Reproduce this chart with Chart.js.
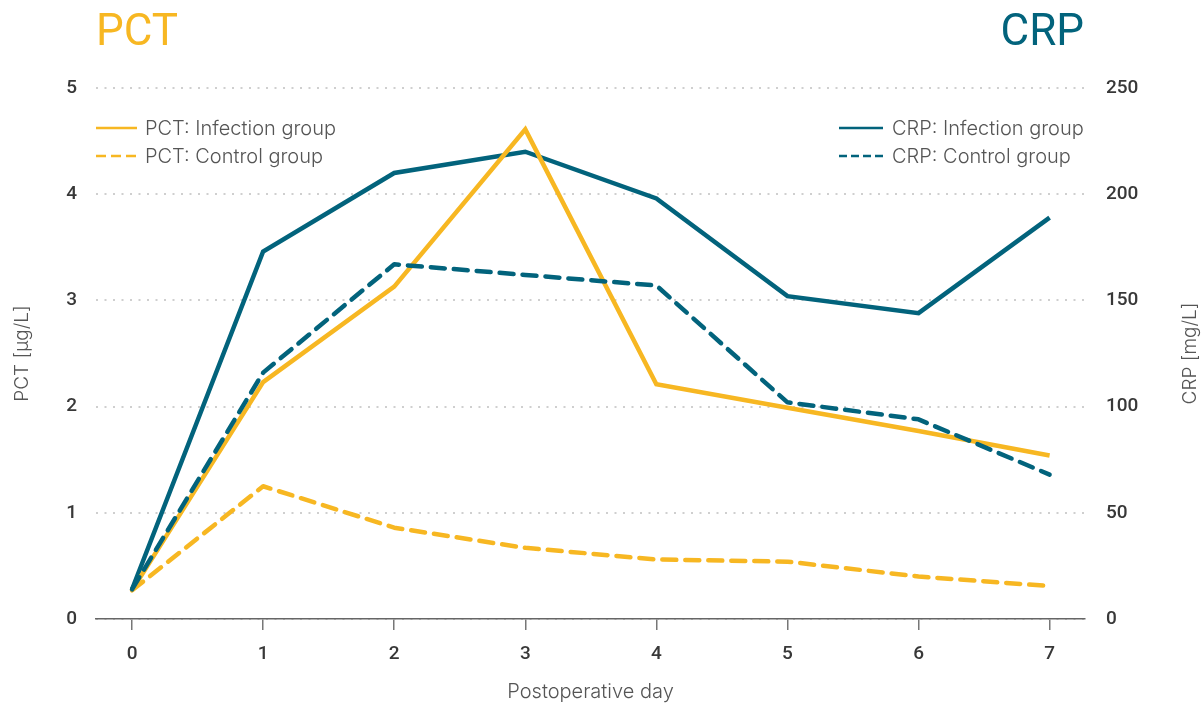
<!DOCTYPE html>
<html>
<head>
<meta charset="utf-8">
<script src="https://cdn.jsdelivr.net/npm/chart.js@4/dist/chart.umd.min.js"></script>
<style>
  html, body { margin: 0; padding: 0; background: #ffffff; }
  #wrap { width: 1202px; height: 704px; position: relative; }
</style>
</head>
<body>
<div id="wrap"><canvas id="c" width="1202" height="704"></canvas></div>
<script>
const days = [0, 1, 2, 3, 4, 5, 6, 7];
const pctInfection = [0.27, 2.23, 3.13, 4.61, 2.21, 1.99, 1.77, 1.54];
const pctControl   = [0.27, 1.25, 0.86, 0.67, 0.56, 0.54, 0.40, 0.31];
const crpInfection = [14, 173, 210, 220, 198, 152, 144, 189];
const crpControl   = [14, 116, 167, 162, 157, 102, 94, 68];
const pctTicks = [0, 1, 2, 3, 4, 5];
const crpTicks = [0, 50, 100, 150, 200, 250];

const ORANGE = '#F7B722';
const TEAL = '#02637C';
const TICKFONT = 'Roboto, "Liberation Sans", Arial, sans-serif';
const LIGHTFONT = 'Inter, "Noto Sans", sans-serif';
const TITLEFONT = 'Roboto, "Liberation Sans", sans-serif';

const pts = arr => days.map((d, i) => ({ x: d, y: arr[i] }));

const titlesLegendPlugin = {
  id: 'titlesLegend',
  afterDraw(chart) {
    const ctx = chart.ctx;
    const ca = chart.chartArea;
    ctx.save();
    ctx.textBaseline = 'alphabetic';
    ctx.font = '400 44px ' + TITLEFONT;
    ctx.fillStyle = ORANGE;
    ctx.textAlign = 'left';
    ctx.fillText('PCT', 96, 45);
    ctx.fillStyle = TEAL;
    ctx.textAlign = 'right';
    ctx.fillText('CRP', 1084, 45);

    // axis titles (both read bottom-to-top)
    const midY = (ca.top + ca.bottom) / 2;
    ctx.font = '300 19px ' + LIGHTFONT;
    ctx.fillStyle = '#555555';
    ctx.textAlign = 'center';
    ctx.textBaseline = 'middle';
    ctx.save();
    ctx.translate(22, midY);
    ctx.rotate(-Math.PI / 2);
    ctx.fillText('PCT [µg/L]', 0, 0);
    ctx.restore();
    ctx.save();
    ctx.translate(1190, midY);
    ctx.rotate(-Math.PI / 2);
    ctx.fillText('CRP [mg/L]', 0, 0);
    ctx.restore();

    const ds = chart.data.datasets;
    const byLabel = l => ds.find(d => d.label === l);
    const drawLine = (d, x0, x1, y) => {
      ctx.save();
      ctx.strokeStyle = d.borderColor;
      ctx.lineWidth = 2.5;
      ctx.setLineDash(d.legendDash || []);
      ctx.beginPath();
      ctx.moveTo(x0, y);
      ctx.lineTo(x1, y);
      ctx.stroke();
      ctx.restore();
    };
    ctx.font = '300 20px ' + LIGHTFONT;
    ctx.fillStyle = '#555555';
    ctx.textBaseline = 'middle';
    ctx.textAlign = 'left';
    const rows = [128, 156];
    ['PCT: Infection group', 'PCT: Control group'].forEach((l, i) => {
      const d = byLabel(l);
      drawLine(d, 96, 137, rows[i]);
      ctx.fillText(d.label, 145, rows[i] + 1);
    });
    ['CRP: Infection group', 'CRP: Control group'].forEach((l, i) => {
      const d = byLabel(l);
      ctx.fillText(d.label, 892, rows[i] + 1);
      drawLine(d, 839, 883, rows[i]);
    });
    ctx.restore();
  }
};

new Chart(document.getElementById('c'), {
  type: 'line',
  data: {
    datasets: [
      { label: 'CRP: Infection group', data: pts(crpInfection), yAxisID: 'y2',
        borderColor: TEAL, borderWidth: 4.5, pointRadius: 0, fill: false, order: 4 },
      { label: 'PCT: Control group', data: pts(pctControl), yAxisID: 'y',
        borderColor: ORANGE, borderWidth: 4.5, borderDash: [14, 9], legendDash: [10, 5],
        borderCapStyle: 'round', borderJoinStyle: 'round', pointRadius: 0, fill: false, order: 3 },
      { label: 'PCT: Infection group', data: pts(pctInfection), yAxisID: 'y',
        borderColor: ORANGE, borderWidth: 4.5, pointRadius: 0, fill: false, order: 2 },
      { label: 'CRP: Control group', data: pts(crpControl), yAxisID: 'y2',
        borderColor: TEAL, borderWidth: 4.5, borderDash: [14, 9], legendDash: [8, 4],
        borderCapStyle: 'round', borderJoinStyle: 'round', pointRadius: 0, fill: false, order: 1 }
    ]
  },
  options: {
    responsive: false,
    animation: false,
    events: [],
    layout: { padding: { top: 88, left: 0, right: 0, bottom: 0 } },
    plugins: { legend: { display: false }, tooltip: { enabled: false }, title: { display: false } },
    scales: {
      x: {
        type: 'linear',
        min: -0.275, max: 7.27,
        afterBuildTicks: s => { s.ticks = days.map(v => ({ value: v })); },
        afterFit: s => { s.height = 85; },
        border: { display: true, color: '#666666', width: 1.5 },
        grid: { display: true, drawOnChartArea: false, drawTicks: true, tickLength: 11, color: '#777777', lineWidth: 1.5 },
        ticks: { color: '#383838', font: { family: TICKFONT, size: 19, weight: '500' }, padding: 13 },
        title: { display: true, text: 'Postoperative day', color: '#555555',
                 font: { family: LIGHTFONT, size: 20, weight: '300' }, padding: { top: 7, bottom: 0 } }
      },
      y: {
        position: 'left',
        min: 0, max: 5,
        afterBuildTicks: s => { s.ticks = pctTicks.map(v => ({ value: v })); },
        afterFit: s => { s.width = 96; },
        border: { display: false, dash: [2, 6.5] },
        grid: { color: '#cfcfcf', lineWidth: 2, drawTicks: false },
        ticks: { color: '#383838', font: { family: TICKFONT, size: 19, weight: '500' }, padding: 19 }
      },
      y2: {
        position: 'right',
        min: 0, max: 250,
        afterBuildTicks: s => { s.ticks = crpTicks.map(v => ({ value: v })); },
        afterFit: s => { s.width = 117; },
        border: { display: false },
        grid: { display: false, drawTicks: false },
        ticks: { color: '#383838', font: { family: TICKFONT, size: 19, weight: '500' }, padding: 21 }
      }
    }
  },
  plugins: [titlesLegendPlugin]
});
</script>
</body>
</html>
